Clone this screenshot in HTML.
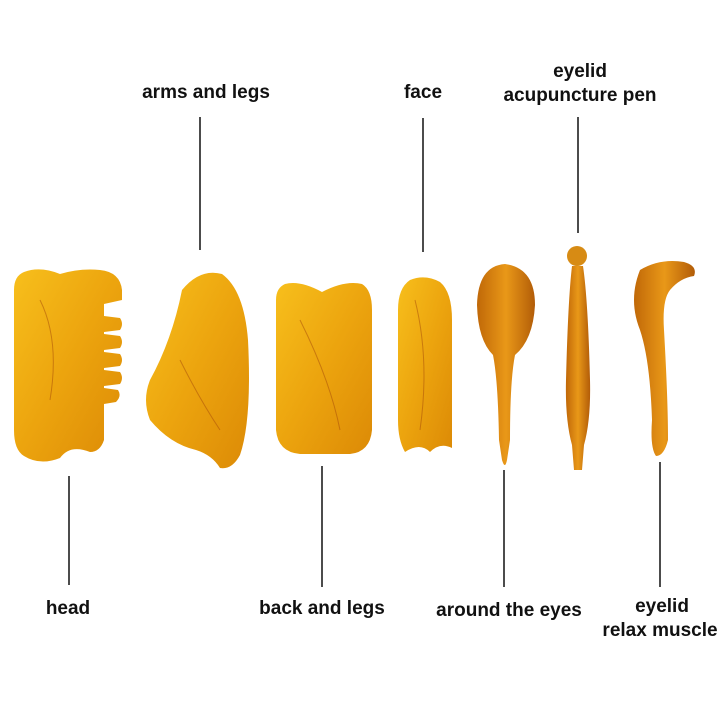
<!DOCTYPE html>
<html><head><meta charset="utf-8"><style>
html,body{margin:0;padding:0;background:#fff;}
svg{display:block}
text{font-family:"Liberation Sans",sans-serif;font-weight:bold;font-size:19px;fill:#111;text-anchor:middle}
</style></head><body>
<svg width="720" height="720" viewBox="0 0 720 720">
<defs>
<linearGradient id="a" x1="0" y1="0" x2="1" y2="1">
<stop offset="0" stop-color="#f7bf1c"/><stop offset="0.5" stop-color="#eca40e"/><stop offset="1" stop-color="#dc8a06"/>
</linearGradient>
<linearGradient id="b" x1="0" y1="0" x2="1" y2="0">
<stop offset="0" stop-color="#c06808"/><stop offset="0.5" stop-color="#e99818"/><stop offset="1" stop-color="#b25c08"/>
</linearGradient>
</defs>
<g stroke="#111" stroke-width="1.5">
<line x1="200" y1="117" x2="200" y2="250"/>
<line x1="423" y1="118" x2="423" y2="252"/>
<line x1="578" y1="117" x2="578" y2="233"/>
<line x1="69" y1="476" x2="69" y2="585"/>
<line x1="322" y1="466" x2="322" y2="587"/>
<line x1="504" y1="470" x2="504" y2="587"/>
<line x1="660" y1="462" x2="660" y2="587"/>
</g>
<path fill="url(#a)" d="M24 272 Q40 266 60 274 Q80 268 100 270 Q120 272 122 290 L122 300 L104 304 L104 316 L120 318 Q124 324 120 330 L104 332 L104 334 L120 336 Q124 342 120 348 L104 350 L104 352 L120 354 Q124 360 120 366 L104 368 L104 370 L120 372 Q124 378 120 384 L104 386 L104 388 L118 390 Q122 396 116 402 L104 404 L104 440 Q100 452 90 452 Q70 444 60 458 Q40 466 24 456 Q14 450 14 430 L14 290 Q14 276 24 272Z"/>
<path fill="url(#a)" d="M182 290 Q200 268 222 274 Q244 290 248 340 Q252 420 240 455 Q232 470 220 468 Q212 455 196 450 Q170 444 150 420 Q142 400 150 380 Q172 340 182 290Z"/>
<path fill="url(#a)" d="M285 284 Q300 280 322 292 Q345 280 362 284 Q372 290 372 310 L372 430 Q370 452 350 454 L300 454 Q278 452 276 430 L276 300 Q276 288 285 284Z"/>
<path fill="url(#a)" d="M410 280 Q425 274 440 282 Q452 292 452 320 L452 448 Q440 442 430 452 Q420 442 405 452 Q398 440 398 420 L398 310 Q398 288 410 280Z"/>
<path fill="url(#b)" d="M505 264 Q535 268 535 305 Q533 340 515 355 Q510 380 510 440 L507 460 Q505 470 502 460 L499 440 Q498 380 493 355 Q478 340 477 305 Q478 266 505 264Z"/>
<circle cx="577" cy="256" r="10" fill="#d78b14"/>
<path fill="url(#b)" d="M572 266 L583 266 Q588 300 590 380 Q591 420 584 445 L582 470 L574 470 L572 445 Q565 420 566 380 Q568 300 572 266Z"/>
<path fill="url(#b)" d="M640 270 Q660 258 684 262 Q698 266 694 276 Q680 278 670 290 Q662 300 664 330 Q668 400 668 440 Q664 456 656 456 Q650 448 652 420 Q650 360 640 330 Q628 300 640 270Z"/>
<g stroke="#a54a0a" stroke-width="1" fill="none" opacity="0.5">
<path d="M40 300 Q60 340 50 400 M180 360 Q200 400 220 430 M300 320 Q330 380 340 430 M415 300 Q430 360 420 430"/>
</g>
<text x="206" y="98">arms and legs</text>
<text x="423" y="98">face</text>
<text x="580" y="77">eyelid</text>
<text x="580" y="101">acupuncture pen</text>
<text x="68" y="614">head</text>
<text x="322" y="614">back and legs</text>
<text x="509" y="616">around the eyes</text>
<text x="662" y="612">eyelid</text>
<text x="660" y="636">relax muscle</text>
</svg>
</body></html>
